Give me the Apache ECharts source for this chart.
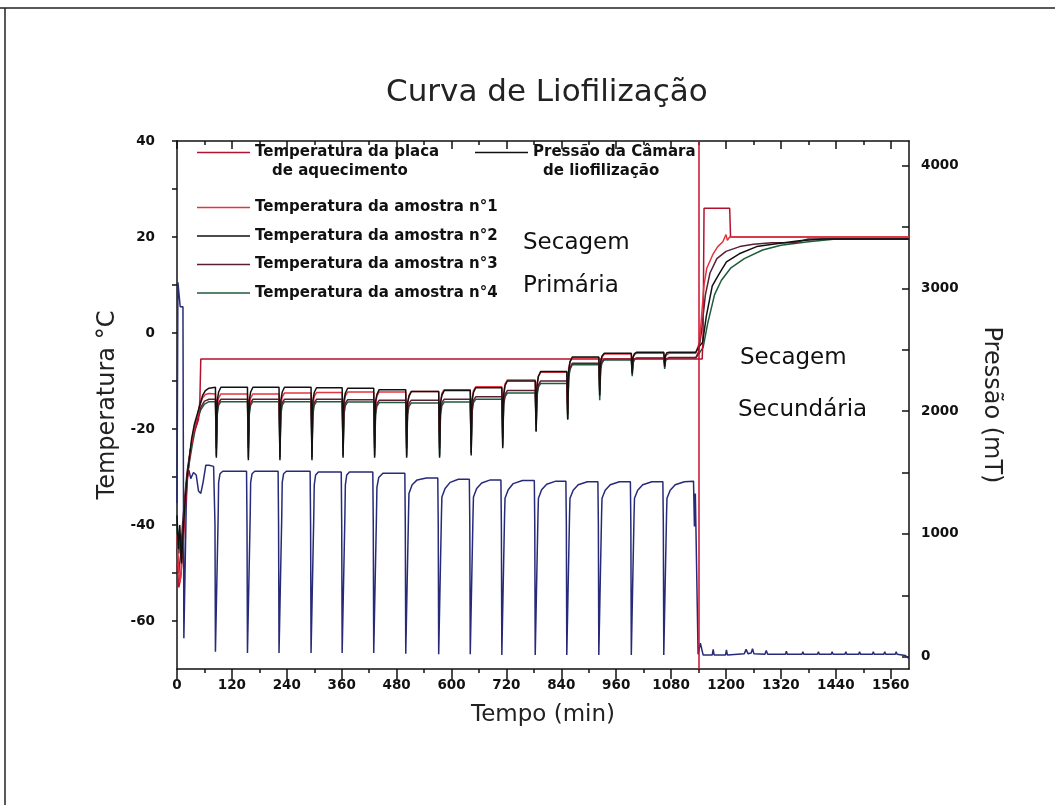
<!DOCTYPE html>
<html><head><meta charset="utf-8">
<script src="https://cdn.jsdelivr.net/npm/echarts@6/dist/echarts.min.js"></script>
<style>html,body{margin:0;padding:0;background:#fff}#c{width:1055px;height:805px}</style>
</head><body><div id="c"></div>
<script>
// ---- tick labels ----
const xMajorTicks = [0,120,240,360,480,600,720,840,960,1080,1200,1320,1440,1560];
const xMinorTicks = [60,180,300,420,540,660,780,900,1020,1140,1260,1380,1500];
const tempLabels = [-60,-40,-20,0,20,40];
const tempTicks = [-60,-50,-40,-30,-20,-10,0,10,20,30,40];
const presLabels = [0,1000,2000,3000,4000];
const presTicks = [0,500,1000,1500,2000,2500,3000,3500,4000];

// ---- series names ----
const names = ['Temperatura da placa','Temperatura da amostra n°1','Temperatura da amostra n°2',
  'Temperatura da amostra n°3','Temperatura da amostra n°4','Pressão da Câmara'];

// ---- data [tempo (min), valor] ----
const placa = [[0,-48],[4,-53],[8,-51],[12,-46],[16,-40],[20,-34],[25,-28],[30,-24],[36,-21],[42,-19.5],[47,-18],[50,-14],[52,-5.4],
 [1134,-5.4],[1148,-5.4],[1150,0],[1152,26],[1208,26],[1210,20],[1600,20]];

const amostra1 = [[0,-42],[3,-48],[6,-52],[9,-50],[12,-45],[16,-38],[20,-32],[25,-28],[30,-24],[35,-21],[40,-19],[45,-17],[50,-15],[56,-13.5],[62,-12.8],[70,-12.6],
 [84,-12.7],[86,-21],[88,-15],[91,-13.5],[96,-12.7],
 [154,-12.7],[156,-21],[158,-15],[161,-13.5],[166,-12.7],
 [223,-12.7],[225,-21],[227,-15],[230,-13.3],[235,-12.5],
 [293,-12.5],[295,-21],[297,-15],[300,-13.2],[305,-12.4],
 [361,-12.4],[363,-21],[365,-15],[368,-13.1],[373,-12.3],
 [430,-12.3],[432,-21],[434,-15],[437,-13.1],[442,-12.3],
 [500,-12.3],[502,-21],[504,-15],[507,-13],[512,-12.2],
 [572,-12.2],[574,-20.5],[576,-14.5],[579,-12.6],[584,-11.8],
 [641,-11.8],[643,-20],[645,-14],[648,-12],[653,-11.2],
 [710,-11.2],[712,-19],[714,-12.5],[717,-10.6],[722,-9.8],
 [783,-9.8],[785,-17],[787,-10.5],[790,-9],[795,-8.2],
 [852,-8.2],[854,-15],[856,-7.5],[859,-6],[864,-5.2],
 [922,-5.2],[924,-10],[926,-6],[929,-5],[934,-4.4],
 [993,-4.4],[995,-7],[997,-5],[1000,-4.5],[1005,-4.2],
 [1064,-4.2],[1066,-6],[1068,-4.7],[1071,-4.3],[1076,-4.2],
 [1134,-4.2],[1138,-3],[1142,-2],[1147,4],[1152,10],[1158,13.5],[1164,14.8],[1172,16.5],[1182,18],[1193,19],[1200,20.5],[1203,19.3],[1208,20],[1600,20]];

const amostra2 = [[0,-38],[3,-45],[6,-40],[10,-48],[13,-42],[17,-36],[22,-30],[27,-26],[32,-22],[38,-19],[44,-17],[50,-15],[56,-13],[62,-12],[70,-11.5],
 [84,-11.3],[86,-26],[88,-14],[91,-12.3],[96,-11.3],
 [154,-11.3],[156,-26.5],[158,-14],[161,-12.3],[166,-11.3],
 [223,-11.3],[225,-26.5],[227,-14],[230,-12.3],[235,-11.3],
 [293,-11.3],[295,-26.5],[297,-14],[300,-12.4],[305,-11.4],
 [361,-11.4],[363,-26],[365,-14],[368,-12.5],[373,-11.5],
 [430,-11.5],[432,-26],[434,-14.2],[437,-12.8],[442,-11.8],
 [500,-11.8],[502,-26],[504,-14.5],[507,-13.2],[512,-12.2],
 [572,-12.2],[574,-26],[576,-14.5],[579,-13],[584,-12],
 [641,-12],[643,-25.5],[645,-14],[648,-12.4],[653,-11.4],
 [710,-11.4],[712,-24],[714,-13],[717,-11],[722,-10],
 [783,-10],[785,-20.5],[787,-11],[790,-9],[795,-8],
 [852,-8],[854,-18],[856,-8],[859,-6],[864,-5],
 [922,-5],[924,-13],[926,-6],[929,-4.8],[934,-4.2],
 [993,-4.2],[995,-8.5],[997,-5],[1000,-4.3],[1005,-4],
 [1064,-4],[1066,-7],[1068,-4.6],[1071,-4.1],[1076,-4],
 [1134,-4],[1140,-3],[1149,-1.9],[1157,3.5],[1170,9.8],[1185,12.3],[1201,14.8],[1229,16.5],[1267,18],[1302,18.5],[1360,19.2],[1411,19.6],[1600,19.6]];

const amostra3 = [[0,-45],[4,-50],[8,-46],[12,-40],[17,-34],[22,-29],[28,-25],[34,-22],[40,-19.5],[46,-17.5],[52,-15.5],[60,-14.2],[70,-13.8],
 [84,-13.8],[86,-24],[88,-16],[91,-14.5],[96,-13.8],
 [154,-13.8],[156,-24],[158,-16],[161,-14.5],[166,-13.8],
 [223,-13.8],[225,-24],[227,-16],[230,-14.5],[235,-13.8],
 [293,-13.8],[295,-24],[297,-16],[300,-14.5],[305,-13.8],
 [361,-13.8],[363,-24],[365,-16],[368,-14.6],[373,-13.9],
 [430,-13.9],[432,-24],[434,-16],[437,-14.7],[442,-14],
 [500,-14],[502,-24],[504,-16],[507,-14.7],[512,-14],
 [572,-14],[574,-24],[576,-16],[579,-14.5],[584,-13.8],
 [641,-13.8],[643,-23.5],[645,-15.5],[648,-14],[653,-13.3],
 [710,-13.3],[712,-22],[714,-14.5],[717,-12.8],[722,-12],
 [783,-12],[785,-19],[787,-12.5],[790,-10.8],[795,-10],
 [852,-10],[854,-17],[856,-9],[859,-7.3],[864,-6.3],
 [922,-6.3],[924,-12],[926,-7],[929,-6],[934,-5.4],
 [993,-5.4],[995,-8],[997,-6],[1000,-5.4],[1005,-5.2],
 [1064,-5.2],[1066,-6.5],[1068,-5.5],[1071,-5.2],[1076,-5.1],
 [1134,-5.1],[1140,-4],[1146,0],[1155,8],[1165,12.5],[1180,15.5],[1200,17],[1230,18],[1260,18.5],[1300,18.8],[1350,18.8],[1352,19.2],[1380,19.6],[1600,19.6]];

const amostra4 = [[0,-40],[4,-46],[8,-42],[12,-44],[16,-37],[21,-31],[27,-27],[33,-23.5],[39,-20.5],[45,-18],[52,-16],[60,-14.8],[70,-14.3],
 [84,-14.3],[86,-25.5],[88,-17],[91,-15],[96,-14.3],
 [154,-14.3],[156,-26],[158,-17],[161,-15],[166,-14.3],
 [223,-14.3],[225,-26],[227,-17],[230,-15],[235,-14.3],
 [293,-14.3],[295,-26],[297,-17],[300,-15],[305,-14.3],
 [361,-14.3],[363,-25.5],[365,-17],[368,-15.1],[373,-14.4],
 [430,-14.4],[432,-25.5],[434,-17],[437,-15.2],[442,-14.5],
 [500,-14.5],[502,-25.5],[504,-17],[507,-15.3],[512,-14.6],
 [572,-14.6],[574,-25.5],[576,-17],[579,-15.1],[584,-14.4],
 [641,-14.4],[643,-25],[645,-16.5],[648,-14.5],[653,-13.8],
 [710,-13.8],[712,-23.5],[714,-15],[717,-13.3],[722,-12.5],
 [783,-12.5],[785,-20.5],[787,-13],[790,-11.3],[795,-10.5],
 [852,-10.5],[854,-18],[856,-9.5],[859,-7.6],[864,-6.6],
 [922,-6.6],[924,-14],[926,-7.5],[929,-6.2],[934,-5.6],
 [993,-5.6],[995,-9],[997,-6.2],[1000,-5.5],[1005,-5.3],
 [1064,-5.3],[1066,-7.5],[1068,-5.7],[1071,-5.3],[1076,-5.2],
 [1134,-5.2],[1143,-4],[1150,-3],[1160,2],[1175,8],[1190,11],[1210,13.5],[1240,15.5],[1280,17.3],[1320,18.3],[1380,19],[1440,19.6],[1600,19.6]];

const pressao = [[0,1250],[2,3050],[6,3050],[7,2850],[13,2850],[15,150],[18,150],[20,1200],[22,1450],[26,1520],[30,1450],[36,1500],[42,1480],[47,1350],[52,1330],[57,1420],[63,1560],[70,1560],[80,1550],
 [82,1550],[83,1080],[84,40],[88,40],[90,1150],[91,1420],[94,1490],[100,1510],
 [152,1510],[153,1080],[154,30],[158,30],[160,1150],[161,1420],[164,1490],[170,1510],
 [221,1510],[222,1080],[223,30],[227,30],[229,1150],[230,1420],[233,1490],[239,1510],
 [291,1510],[292,1080],[293,30],[297,30],[299,1150],[300,1400],[303,1480],[309,1505],
 [359,1505],[360,1080],[361,30],[365,30],[367,1150],[368,1400],[371,1480],[377,1505],
 [428,1505],[429,1080],[430,30],[434,30],[436,1150],[437,1380],[441,1460],[450,1495],
 [498,1495],[499,1080],[500,25],[504,25],[506,1150],[507,1330],[514,1400],[525,1440],[545,1455],
 [570,1455],[571,1080],[572,20],[576,20],[578,1150],[579,1300],[586,1370],[597,1420],[615,1445],
 [639,1445],[640,1080],[641,20],[645,20],[647,1150],[648,1300],[655,1370],[666,1415],[685,1440],
 [708,1440],[709,1080],[710,15],[714,15],[716,1150],[717,1290],[724,1360],[735,1410],[755,1435],
 [781,1435],[782,1080],[783,15],[787,15],[789,1150],[790,1290],[797,1360],[808,1405],[828,1430],
 [850,1430],[851,1080],[852,15],[856,15],[858,1150],[859,1290],[866,1355],[877,1400],[897,1425],
 [920,1425],[921,1080],[922,15],[926,15],[928,1150],[929,1290],[936,1355],[947,1400],[967,1425],
 [991,1425],[992,1080],[993,15],[997,15],[999,1150],[1000,1290],[1007,1355],[1018,1400],[1038,1425],
 [1062,1425],[1063,1080],[1064,15],[1068,15],[1070,1150],[1071,1290],[1078,1355],[1089,1400],[1109,1425],
 [1129,1430],[1131,1060],[1133,1330],[1137,1330],[1139,20],[1142,20],[1144,110],[1147,110],[1150,15],
 [1170,15],[1172,60],[1174,15],[1199,15],[1201,55],[1203,15],[1240,25],[1244,60],[1248,25],[1255,30],[1258,65],[1261,25],[1285,20],[1288,50],[1291,20],
 [1330,20],[1332,45],[1334,20],[1366,20],[1368,40],[1370,20],[1400,20],[1402,40],[1404,20],[1430,20],[1432,40],[1434,20],
 [1460,20],[1462,40],[1464,20],[1490,20],[1492,40],[1494,20],[1520,20],[1522,40],[1524,20],[1545,20],[1547,40],[1549,20],
 [1570,20],[1572,40],[1574,20],[1592,10],[1598,-10],[1600,-10]];

const divisaoFases = 1140;

// ---- colours ----
const colors = ['#b3122e','#e3343f','#111111','#5b1f33','#1f5a3c','#262a78'];

const chart = echarts.init(document.getElementById('c'), null, {renderer:'canvas'});
const FF = 'DejaVu Sans';
const plain = v => String(v);
const lbl = {fontFamily: FF, fontWeight:'bold', fontSize: 13.5, color:'#111', formatter: plain};
const legText = {fontFamily: FF, fontWeight:'bold', fontSize: 15, color:'#111'};
const legCommon = {orient:'vertical', icon:'rect', itemWidth:53, itemHeight:1.6, padding:0, textStyle:legText, selectedMode:false};

function mk(i, data, yIdx, extra){
  return Object.assign({name: names[i], type:'line', data: data, xAxisIndex:0, yAxisIndex:yIdx,
    symbol:'none', showSymbol:false, smooth:false, animation:false,
    lineStyle:{color: colors[i], width:1.5}, itemStyle:{color: colors[i]}}, extra||{});
}

const option = {
  animation:false,
  backgroundColor:'#ffffff',
  title:{text:'Curva de Liofilização', left:381, top:72,
    textStyle:{fontFamily:FF, fontSize:31, fontWeight:'normal', color:'#222'}},
  grid:{left:177, right:146, top:141, bottom:136, containLabel:false},
  legend:[
    Object.assign({data:[names[0]], left:197, top:145}, legCommon),
    Object.assign({data:[names[1],names[2],names[3],names[4]], left:197, top:200, itemGap:13.5}, legCommon),
    Object.assign({data:[{name:names[5], itemStyle:{color:'#111'}}], left:475, top:145}, legCommon)
  ],
  xAxis:[
    {type:'value', position:'bottom', min:0, max:1600, name:'Tempo (min)', nameLocation:'middle', nameGap:35,
     nameTextStyle:{fontFamily:FF, fontSize:23, color:'#222'},
     axisLine:{show:true, onZero:false, lineStyle:{color:'#111', width:1.5}},
     axisTick:{show:true, inside:false, length:10, customValues:xMajorTicks, lineStyle:{color:'#111', width:1.5}},
     axisLabel:Object.assign({show:true, customValues:xMajorTicks, margin:9}, lbl),
     splitLine:{show:false}},
    {type:'value', position:'bottom', min:0, max:1600,
     axisLine:{show:false, onZero:false}, axisTick:{show:true, inside:false, length:4, customValues:xMinorTicks, lineStyle:{color:'#111', width:1.5}},
     axisLabel:{show:false}, splitLine:{show:false}},
    {type:'value', position:'top', min:0, max:1600,
     axisLine:{show:true, onZero:false, lineStyle:{color:'#111', width:1.5}},
     axisTick:{show:true, inside:true, length:8, customValues:xMajorTicks, lineStyle:{color:'#111', width:1.5}},
     axisLabel:{show:false}, splitLine:{show:false}},
    {type:'value', position:'top', min:0, max:1600,
     axisLine:{show:false, onZero:false}, axisTick:{show:true, inside:true, length:4, customValues:xMinorTicks, lineStyle:{color:'#111', width:1.5}},
     axisLabel:{show:false}, splitLine:{show:false}}
  ],
  yAxis:[
    {type:'value', position:'left', min:-70, max:40, name:'Temperatura °C', nameLocation:'middle', nameGap:50,
     nameTextStyle:{fontFamily:FF, fontSize:24, color:'#222'},
     axisLine:{show:true, onZero:false, lineStyle:{color:'#111', width:1.5}},
     axisTick:{show:true, inside:false, length:5, customValues:tempTicks, lineStyle:{color:'#111', width:1.5}},
     axisLabel:Object.assign({show:true, customValues:tempLabels, margin:22}, lbl),
     splitLine:{show:false}},
    {type:'value', position:'right', min:-100, max:4200, name:'Pressão (mT)', nameLocation:'middle', nameGap:70, nameRotate:-90,
     nameTextStyle:{fontFamily:FF, fontSize:24, color:'#222'},
     axisLine:{show:true, onZero:false, lineStyle:{color:'#111', width:1.5}},
     axisTick:{show:true, inside:true, length:7, customValues:presTicks, lineStyle:{color:'#111', width:1.5}},
     axisLabel:Object.assign({show:true, customValues:presLabels, margin:12}, lbl),
     splitLine:{show:false}}
  ],
  graphic:[
    {type:'line', shape:{x1:0,y1:8,x2:1055,y2:8}, style:{stroke:'#222', lineWidth:1.5}, silent:true},
    {type:'line', shape:{x1:5,y1:8,x2:5,y2:805}, style:{stroke:'#222', lineWidth:1.5}, silent:true},
    {type:'text', left:272, top:164, style:{text:'de aquecimento', font:'bold 15px "DejaVu Sans"', fill:'#111'}},
    {type:'text', left:543, top:164, style:{text:'de liofilização', font:'bold 15px "DejaVu Sans"', fill:'#111'}},
    {type:'text', left:523, top:232, style:{text:'Secagem', font:'23px "DejaVu Sans"', fill:'#111'}},
    {type:'text', left:523, top:275, style:{text:'Primária', font:'23px "DejaVu Sans"', fill:'#111'}},
    {type:'text', left:740, top:347, style:{text:'Secagem', font:'23px "DejaVu Sans"', fill:'#111'}},
    {type:'text', left:738, top:399, style:{text:'Secundária', font:'23px "DejaVu Sans"', fill:'#111'}}
  ],
  series:[
    mk(0, placa, 0, {z:3, markLine:{silent:true, symbol:['none','none'], label:{show:false}, animation:false,
        lineStyle:{color:'#c8102e', width:1.5, type:'solid'}, data:[{xAxis:divisaoFases}]}}),
    mk(4, amostra4, 0, {z:2}),
    mk(3, amostra3, 0, {z:2}),
    mk(1, amostra1, 0, {z:3}),
    mk(2, amostra2, 0, {z:4}),
    mk(5, pressao, 1, {z:2})
  ]
};
chart.setOption(option);
</script></body></html>
